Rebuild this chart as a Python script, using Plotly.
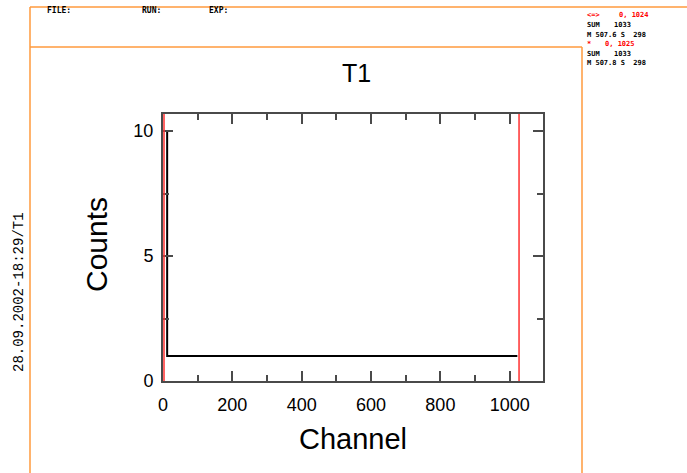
import plotly.graph_objects as go

# ---- data ----
hist_channels = [12, 12, 1022]
hist_counts = [10, 1, 1]
marker_channels = [0, 1024]
x_tick_vals = [0, 200, 400, 600, 800, 1000]
y_tick_vals = [0, 5, 10]
title_text = "T1"
x_title = "Channel"
y_title = "Counts"
date_label = "28.09.2002-18:29/T1"
header_labels = ["FILE:", "RUN:", "EXP:"]
info_lines = [
    [("<=>", "red"), ("0, 1024", "red")],
    [("SUM", "black"), ("1033", "black")],
    [("M 507.6 S  298", "black")],
    [("*", "red"), ("0, 1025", "red")],
    [("SUM", "black"), ("1033", "black")],
    [("M 507.8 S  298", "black")],
]

W, H = 687, 473
L, R, T, B = 163, 543, 114, 381  # plot box in pixels


def px(x):
    return (x - L) / (R - L)


def py(y):
    return (B - y) / (B - T)


fig = go.Figure()

fig.add_trace(go.Scatter(
    x=hist_channels, y=hist_counts, mode="lines",
    line=dict(color="black", width=2), showlegend=False, hoverinfo="skip"))

shapes = []
orange = "#ff9a3c"
frame = [
    (30, 7, W, 7),
    (30, 47, 582, 47),
    (30, 7, 30, H),
    (582, 47, 582, H),
]
for x0, y0, x1, y1 in frame:
    shapes.append(dict(type="line", xref="paper", yref="paper",
                       x0=px(x0), x1=px(x1), y0=py(y0), y1=py(y1),
                       line=dict(color=orange, width=1.5)))

for m in marker_channels:
    shapes.append(dict(type="line", xref="x", yref="y domain", xsizemode="pixel", xanchor=m,
                       x0=1, x1=1, y0=0, y1=1,
                       line=dict(color="#ff3030", width=1.5), layer="above"))

ann = []
ann.append(dict(text=title_text, x=px(356), y=py(73), xref="paper", yref="paper",
                showarrow=False, font=dict(size=25, color="black", family="Liberation Sans"),
                xanchor="center", yanchor="middle"))
ann.append(dict(text=x_title, x=px(353), y=py(439), xref="paper", yref="paper",
                showarrow=False, font=dict(size=29, color="black", family="Liberation Sans"),
                xanchor="center", yanchor="middle"))
ann.append(dict(text=y_title, x=px(96), y=py(245), xref="paper", yref="paper",
                showarrow=False, textangle=-90,
                font=dict(size=30, color="black", family="Liberation Sans"),
                xanchor="center", yanchor="middle"))
ann.append(dict(text=date_label, x=px(19), y=py(292), xref="paper", yref="paper",
                showarrow=False, textangle=-90,
                font=dict(size=14, color="black", family="Liberation Mono"),
                xanchor="center", yanchor="middle"))

for lab, xx in zip(header_labels, [45, 140, 207]):
    ann.append(dict(text="<b>" + lab + "</b>", x=px(xx), y=py(11), xref="paper", yref="paper",
                    showarrow=False, font=dict(size=8, color="black", family="DejaVu Sans Mono"),
                    xanchor="left", yanchor="middle"))

line_y = [15, 25, 35, 44, 54, 63]
piece_x = [585, 612]
for ly, pieces in zip(line_y, info_lines):
    for i, (txt, col) in enumerate(pieces):
        xx = piece_x[i]
        if i == 1 and col == "red":
            xx = 617 if ly < 20 else 603
        ann.append(dict(text="<b>" + txt.replace(" ", "&nbsp;") + "</b>", x=px(xx), y=py(ly),
                        xref="paper", yref="paper", showarrow=False,
                        font=dict(size=7, color=col, family="DejaVu Sans Mono"),
                        xanchor="left", yanchor="middle"))

axis_col = "#4a4a4a"
fig.update_layout(
    width=W, height=H,
    margin=dict(l=L, r=W - R, t=T, b=H - B),
    paper_bgcolor="white", plot_bgcolor="white",
    shapes=shapes, annotations=ann,
    showlegend=False,
    xaxis=dict(range=[0, 1096], tickvals=x_tick_vals, ticks="inside", ticklen=10, tickwidth=1.5,
               tickcolor=axis_col, showline=True, linecolor=axis_col, linewidth=2, mirror="ticks",
               showgrid=False, zeroline=False,
               minor=dict(dtick=100, ticks="inside", ticklen=6, tickwidth=1.5, tickcolor=axis_col,
                          showgrid=False),
               tickfont=dict(size=18, color="black", family="Liberation Sans"),
               ticklabelstandoff=6),
    yaxis=dict(range=[0, 10.68], tickvals=y_tick_vals, ticks="inside", ticklen=10, tickwidth=1.5,
               tickcolor=axis_col, showline=True, linecolor=axis_col, linewidth=2, mirror="ticks",
               showgrid=False, zeroline=False,
               minor=dict(dtick=2.5, ticks="inside", ticklen=6, tickwidth=1.5, tickcolor=axis_col,
                          showgrid=False),
               tickfont=dict(size=18, color="black", family="Liberation Sans"),
               ticklabelstandoff=4),
)

fig.write_html("out.html")
